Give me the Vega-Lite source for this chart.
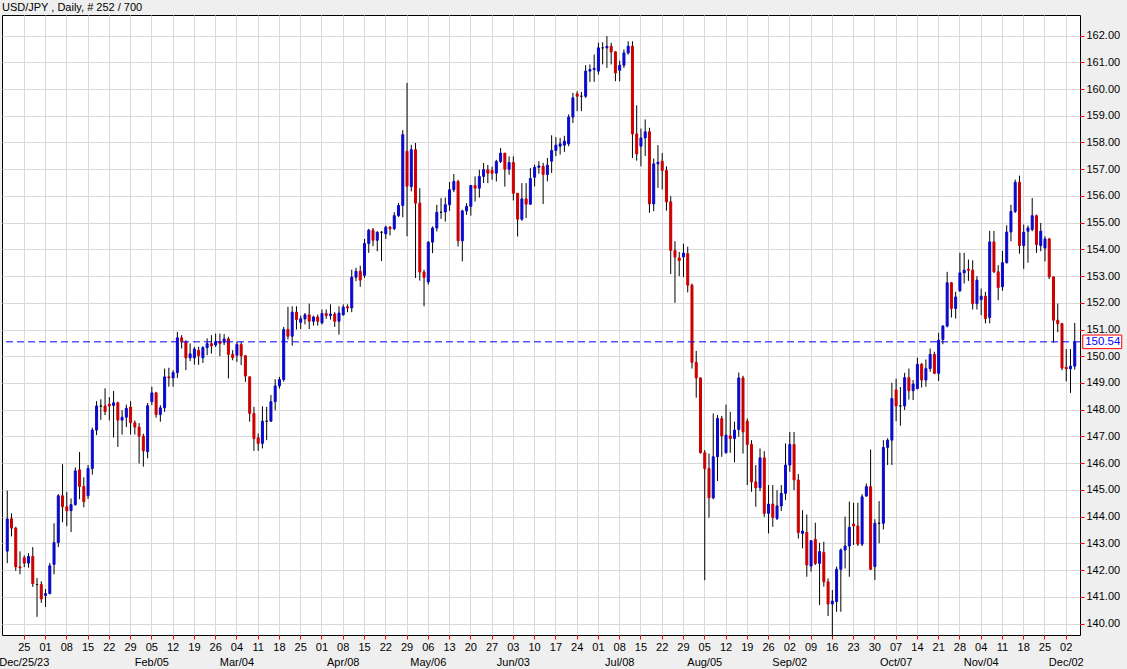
{
"$schema":"https://vega.github.io/schema/vega-lite/v6.json",
"width":1078,"height":620,
"autosize":{"type":"none"},
"padding":{"left":2,"top":15,"right":47,"bottom":34},
"background":"#efefef",
"config":{"view":{"stroke":"black","strokeWidth":1,"fill":"white"},"font":"Liberation Sans","axis":{"labelOverlap":false},"axisY":{"labelOverlap":false},"axisRight":{"labelOverlap":false},"axisQuantitative":{"labelOverlap":false}},
"title":{"text":"USD/JPY , Daily, # 252 / 700","anchor":"start","frame":"group","offset":2,"dy":11,"baseline":"bottom","fontSize":11,"fontWeight":"normal","color":"black","font":"Liberation Sans"},
"data":{"values":[
{"d":"2023-12-19","o":142.71,"h":144.97,"l":142.26,"c":143.91},
{"d":"2023-12-20","o":143.92,"h":144.12,"l":143.26,"c":143.57},
{"d":"2023-12-21","o":143.57,"h":143.62,"l":141.97,"c":142.12},
{"d":"2023-12-22","o":142.12,"h":142.70,"l":141.84,"c":142.08},
{"d":"2023-12-25","o":142.46,"h":142.55,"l":142.11,"c":142.26},
{"d":"2023-12-26","o":142.26,"h":142.63,"l":142.09,"c":142.51},
{"d":"2023-12-27","o":142.51,"h":142.86,"l":141.37,"c":141.49},
{"d":"2023-12-28","o":141.46,"h":141.70,"l":140.25,"c":141.46},
{"d":"2023-12-29","o":141.46,"h":141.58,"l":140.77,"c":140.92},
{"d":"2024-01-01","o":141.05,"h":141.29,"l":140.62,"c":141.12},
{"d":"2024-01-02","o":141.12,"h":142.26,"l":141.09,"c":142.16},
{"d":"2024-01-03","o":142.21,"h":143.75,"l":141.84,"c":143.03},
{"d":"2024-01-04","o":143.03,"h":144.84,"l":142.86,"c":144.78},
{"d":"2024-01-05","o":144.78,"h":145.96,"l":143.79,"c":144.37},
{"d":"2024-01-08","o":144.37,"h":144.93,"l":143.64,"c":144.22},
{"d":"2024-01-09","o":144.22,"h":144.68,"l":143.42,"c":144.45},
{"d":"2024-01-10","o":144.45,"h":145.84,"l":144.41,"c":145.71},
{"d":"2024-01-11","o":145.75,"h":146.42,"l":144.65,"c":145.13},
{"d":"2024-01-12","o":145.13,"h":145.47,"l":144.35,"c":144.56},
{"d":"2024-01-15","o":144.78,"h":145.93,"l":144.66,"c":145.80},
{"d":"2024-01-16","o":145.80,"h":147.33,"l":145.57,"c":147.24},
{"d":"2024-01-17","o":147.24,"h":148.32,"l":147.05,"c":148.14},
{"d":"2024-01-18","o":148.14,"h":148.39,"l":147.62,"c":148.14},
{"d":"2024-01-19","o":148.14,"h":148.80,"l":147.80,"c":147.93},
{"d":"2024-01-22","o":148.21,"h":148.47,"l":147.60,"c":148.14},
{"d":"2024-01-23","o":148.16,"h":148.70,"l":146.96,"c":148.26},
{"d":"2024-01-24","o":148.26,"h":148.30,"l":146.61,"c":147.61},
{"d":"2024-01-25","o":147.61,"h":147.98,"l":147.07,"c":147.72},
{"d":"2024-01-26","o":147.72,"h":148.19,"l":147.35,"c":148.05},
{"d":"2024-01-29","o":148.10,"h":148.32,"l":147.07,"c":147.51},
{"d":"2024-01-30","o":147.51,"h":147.60,"l":147.07,"c":147.35},
{"d":"2024-01-31","o":147.35,"h":147.50,"l":145.99,"c":147.01},
{"d":"2024-02-01","o":147.01,"h":147.10,"l":145.87,"c":146.46},
{"d":"2024-02-02","o":146.43,"h":148.25,"l":146.18,"c":148.15},
{"d":"2024-02-05","o":148.30,"h":148.86,"l":148.17,"c":148.63},
{"d":"2024-02-06","o":148.63,"h":148.67,"l":147.70,"c":147.82},
{"d":"2024-02-07","o":147.82,"h":148.17,"l":147.55,"c":148.07},
{"d":"2024-02-08","o":148.07,"h":149.54,"l":147.92,"c":149.23},
{"d":"2024-02-09","o":149.23,"h":149.57,"l":148.86,"c":149.19},
{"d":"2024-02-12","o":149.19,"h":149.48,"l":148.86,"c":149.39},
{"d":"2024-02-13","o":149.39,"h":150.91,"l":149.19,"c":150.69},
{"d":"2024-02-14","o":150.69,"h":150.79,"l":150.29,"c":150.54},
{"d":"2024-02-15","o":150.54,"h":150.60,"l":149.48,"c":149.94},
{"d":"2024-02-16","o":149.94,"h":150.48,"l":149.82,"c":150.09},
{"d":"2024-02-19","o":149.94,"h":150.35,"l":149.69,"c":150.27},
{"d":"2024-02-20","o":150.22,"h":150.35,"l":149.68,"c":150.02},
{"d":"2024-02-21","o":149.94,"h":150.38,"l":149.75,"c":150.32},
{"d":"2024-02-22","o":150.32,"h":150.67,"l":150.04,"c":150.47},
{"d":"2024-02-23","o":150.47,"h":150.79,"l":150.10,"c":150.39},
{"d":"2024-02-26","o":150.42,"h":150.85,"l":150.35,"c":150.55},
{"d":"2024-02-27","o":150.55,"h":150.85,"l":150.00,"c":150.48},
{"d":"2024-02-28","o":150.52,"h":150.83,"l":150.42,"c":150.65},
{"d":"2024-02-29","o":150.65,"h":150.73,"l":149.17,"c":150.07},
{"d":"2024-03-01","o":150.07,"h":150.23,"l":149.85,"c":149.95},
{"d":"2024-03-04","o":150.04,"h":150.54,"l":149.79,"c":150.44},
{"d":"2024-03-05","o":150.44,"h":150.54,"l":149.67,"c":150.02},
{"d":"2024-03-06","o":150.02,"h":150.04,"l":149.04,"c":149.26},
{"d":"2024-03-07","o":149.23,"h":149.25,"l":147.55,"c":147.86},
{"d":"2024-03-08","o":147.86,"h":148.11,"l":146.46,"c":146.92},
{"d":"2024-03-11","o":146.95,"h":147.11,"l":146.46,"c":146.74},
{"d":"2024-03-12","o":146.74,"h":148.13,"l":146.55,"c":147.57},
{"d":"2024-03-13","o":147.57,"h":148.11,"l":146.86,"c":147.57},
{"d":"2024-03-14","o":147.57,"h":148.55,"l":147.55,"c":148.30},
{"d":"2024-03-15","o":148.30,"h":149.14,"l":147.98,"c":148.89},
{"d":"2024-03-18","o":148.89,"h":149.23,"l":148.79,"c":149.13},
{"d":"2024-03-19","o":149.13,"h":151.10,"l":149.05,"c":151.00},
{"d":"2024-03-20","o":151.00,"h":151.85,"l":150.63,"c":150.75},
{"d":"2024-03-21","o":150.75,"h":151.87,"l":150.40,"c":151.65},
{"d":"2024-03-22","o":151.65,"h":151.87,"l":151.00,"c":151.37},
{"d":"2024-03-25","o":151.27,"h":151.52,"l":151.02,"c":151.40},
{"d":"2024-03-26","o":151.40,"h":151.62,"l":151.19,"c":151.55},
{"d":"2024-03-27","o":151.55,"h":151.97,"l":151.02,"c":151.31},
{"d":"2024-03-28","o":151.31,"h":151.52,"l":151.15,"c":151.47},
{"d":"2024-03-29","o":151.47,"h":151.56,"l":151.15,"c":151.31},
{"d":"2024-04-01","o":151.25,"h":151.75,"l":151.19,"c":151.60},
{"d":"2024-04-02","o":151.60,"h":151.75,"l":151.40,"c":151.52},
{"d":"2024-04-03","o":151.52,"h":151.94,"l":151.37,"c":151.58},
{"d":"2024-04-04","o":151.58,"h":151.65,"l":151.10,"c":151.31},
{"d":"2024-04-05","o":151.31,"h":151.87,"l":150.81,"c":151.62},
{"d":"2024-04-08","o":151.55,"h":151.94,"l":151.52,"c":151.84},
{"d":"2024-04-09","o":151.85,"h":151.94,"l":151.65,"c":151.81},
{"d":"2024-04-10","o":151.81,"h":153.24,"l":151.65,"c":152.96},
{"d":"2024-04-11","o":152.96,"h":153.31,"l":152.81,"c":153.18},
{"d":"2024-04-12","o":153.18,"h":153.39,"l":152.60,"c":152.85},
{"d":"2024-04-15","o":153.03,"h":154.39,"l":152.93,"c":154.22},
{"d":"2024-04-16","o":154.22,"h":154.77,"l":153.87,"c":154.72},
{"d":"2024-04-17","o":154.72,"h":154.80,"l":154.12,"c":154.34},
{"d":"2024-04-18","o":154.34,"h":154.68,"l":153.93,"c":154.64},
{"d":"2024-04-19","o":154.64,"h":154.68,"l":153.56,"c":154.64},
{"d":"2024-04-22","o":154.58,"h":154.89,"l":154.39,"c":154.83},
{"d":"2024-04-23","o":154.83,"h":154.87,"l":154.52,"c":154.77},
{"d":"2024-04-24","o":154.77,"h":155.39,"l":154.72,"c":155.26},
{"d":"2024-04-25","o":155.26,"h":155.74,"l":155.21,"c":155.64},
{"d":"2024-04-26","o":155.64,"h":158.46,"l":155.20,"c":158.29},
{"d":"2024-04-29","o":157.67,"h":160.23,"l":154.49,"c":156.36},
{"d":"2024-04-30","o":156.35,"h":157.91,"l":156.17,"c":157.73},
{"d":"2024-05-01","o":157.73,"h":157.98,"l":152.93,"c":155.73},
{"d":"2024-05-02","o":155.73,"h":156.29,"l":152.83,"c":153.15},
{"d":"2024-05-03","o":153.15,"h":153.24,"l":151.87,"c":152.95},
{"d":"2024-05-06","o":152.78,"h":154.30,"l":152.68,"c":154.27},
{"d":"2024-05-07","o":154.27,"h":154.86,"l":153.86,"c":154.80},
{"d":"2024-05-08","o":154.80,"h":155.67,"l":154.67,"c":155.39},
{"d":"2024-05-09","o":155.39,"h":155.92,"l":155.14,"c":155.39},
{"d":"2024-05-10","o":155.40,"h":155.94,"l":155.04,"c":155.67},
{"d":"2024-05-13","o":155.67,"h":156.52,"l":155.44,"c":156.23},
{"d":"2024-05-14","o":156.23,"h":156.82,"l":156.14,"c":156.54},
{"d":"2024-05-15","o":156.54,"h":156.60,"l":154.11,"c":154.32},
{"d":"2024-05-16","o":154.32,"h":155.48,"l":153.55,"c":155.44},
{"d":"2024-05-17","o":155.44,"h":155.73,"l":155.29,"c":155.61},
{"d":"2024-05-20","o":155.61,"h":156.41,"l":155.26,"c":156.39},
{"d":"2024-05-21","o":156.39,"h":156.73,"l":155.79,"c":156.29},
{"d":"2024-05-22","o":156.29,"h":156.98,"l":155.94,"c":156.73},
{"d":"2024-05-23","o":156.73,"h":157.23,"l":156.48,"c":156.98},
{"d":"2024-05-24","o":156.98,"h":157.16,"l":156.48,"c":156.85},
{"d":"2024-05-27","o":156.95,"h":157.10,"l":156.60,"c":156.85},
{"d":"2024-05-28","o":156.85,"h":157.35,"l":156.54,"c":157.29},
{"d":"2024-05-29","o":157.29,"h":157.79,"l":157.23,"c":157.60},
{"d":"2024-05-30","o":157.60,"h":157.60,"l":156.35,"c":157.00},
{"d":"2024-05-31","o":157.00,"h":157.48,"l":156.79,"c":157.25},
{"d":"2024-06-03","o":157.25,"h":157.48,"l":155.83,"c":156.10},
{"d":"2024-06-04","o":156.10,"h":156.10,"l":154.48,"c":155.13},
{"d":"2024-06-05","o":155.13,"h":156.48,"l":155.07,"c":155.89},
{"d":"2024-06-06","o":155.89,"h":156.48,"l":155.17,"c":155.69},
{"d":"2024-06-07","o":155.69,"h":157.04,"l":155.67,"c":156.65},
{"d":"2024-06-10","o":156.70,"h":157.17,"l":156.36,"c":157.07},
{"d":"2024-06-11","o":157.07,"h":157.30,"l":156.83,"c":157.12},
{"d":"2024-06-12","o":157.11,"h":157.24,"l":155.70,"c":156.80},
{"d":"2024-06-13","o":156.80,"h":157.42,"l":156.55,"c":157.15},
{"d":"2024-06-14","o":157.30,"h":158.27,"l":156.86,"c":157.70},
{"d":"2024-06-17","o":157.70,"h":158.20,"l":157.49,"c":157.90},
{"d":"2024-06-18","o":157.86,"h":158.17,"l":157.55,"c":157.95},
{"d":"2024-06-19","o":157.90,"h":158.25,"l":157.65,"c":158.05},
{"d":"2024-06-20","o":157.95,"h":159.05,"l":157.86,"c":158.95},
{"d":"2024-06-21","o":158.95,"h":159.86,"l":158.73,"c":159.67},
{"d":"2024-06-24","o":159.82,"h":159.92,"l":159.17,"c":159.73},
{"d":"2024-06-25","o":159.73,"h":159.89,"l":159.17,"c":159.73},
{"d":"2024-06-26","o":159.73,"h":160.89,"l":159.67,"c":160.67},
{"d":"2024-06-27","o":160.67,"h":160.92,"l":160.27,"c":160.73},
{"d":"2024-06-28","o":160.73,"h":161.29,"l":160.27,"c":160.77},
{"d":"2024-07-01","o":160.67,"h":161.73,"l":160.54,"c":161.54},
{"d":"2024-07-02","o":161.54,"h":161.75,"l":160.92,"c":161.54},
{"d":"2024-07-03","o":161.54,"h":161.98,"l":160.79,"c":161.60},
{"d":"2024-07-04","o":161.60,"h":161.73,"l":160.92,"c":161.39},
{"d":"2024-07-05","o":161.39,"h":161.41,"l":160.29,"c":160.60},
{"d":"2024-07-08","o":160.70,"h":161.06,"l":160.29,"c":160.89},
{"d":"2024-07-09","o":160.89,"h":161.48,"l":160.79,"c":161.35},
{"d":"2024-07-10","o":161.35,"h":161.79,"l":161.29,"c":161.60},
{"d":"2024-07-11","o":161.60,"h":161.79,"l":157.42,"c":158.32},
{"d":"2024-07-12","o":158.32,"h":159.39,"l":157.32,"c":157.57},
{"d":"2024-07-15","o":157.86,"h":158.52,"l":157.11,"c":158.17},
{"d":"2024-07-16","o":158.17,"h":158.86,"l":157.49,"c":158.40},
{"d":"2024-07-17","o":158.40,"h":158.55,"l":155.37,"c":155.70},
{"d":"2024-07-18","o":155.70,"h":157.40,"l":155.43,"c":157.20},
{"d":"2024-07-19","o":157.20,"h":157.90,"l":156.30,"c":157.26},
{"d":"2024-07-22","o":157.30,"h":157.61,"l":156.24,"c":156.95},
{"d":"2024-07-23","o":156.95,"h":157.11,"l":155.45,"c":155.78},
{"d":"2024-07-24","o":155.78,"h":155.99,"l":153.08,"c":153.96},
{"d":"2024-07-25","o":153.96,"h":154.31,"l":152.00,"c":153.71},
{"d":"2024-07-26","o":153.68,"h":153.90,"l":153.00,"c":153.58},
{"d":"2024-07-29","o":153.72,"h":154.21,"l":152.97,"c":153.86},
{"d":"2024-07-30","o":153.84,"h":154.10,"l":152.39,"c":152.66},
{"d":"2024-07-31","o":152.66,"h":152.72,"l":149.54,"c":149.77},
{"d":"2024-08-01","o":149.77,"h":150.20,"l":148.45,"c":149.19},
{"d":"2024-08-02","o":149.19,"h":149.20,"l":146.36,"c":146.39},
{"d":"2024-08-05","o":146.39,"h":146.49,"l":141.62,"c":145.80},
{"d":"2024-08-06","o":145.80,"h":146.36,"l":143.96,"c":144.70},
{"d":"2024-08-07","o":144.70,"h":147.86,"l":144.65,"c":146.24},
{"d":"2024-08-08","o":146.24,"h":147.80,"l":145.33,"c":147.67},
{"d":"2024-08-09","o":147.67,"h":147.77,"l":146.24,"c":147.02},
{"d":"2024-08-12","o":146.39,"h":148.19,"l":146.36,"c":147.05},
{"d":"2024-08-13","o":147.02,"h":147.92,"l":146.39,"c":146.92},
{"d":"2024-08-14","o":146.92,"h":147.55,"l":146.03,"c":147.24},
{"d":"2024-08-15","o":147.26,"h":149.39,"l":146.99,"c":149.19},
{"d":"2024-08-16","o":149.19,"h":149.27,"l":146.36,"c":147.17},
{"d":"2024-08-19","o":147.57,"h":147.67,"l":145.18,"c":146.70},
{"d":"2024-08-20","o":146.70,"h":146.86,"l":144.93,"c":145.30},
{"d":"2024-08-21","o":145.30,"h":145.93,"l":144.37,"c":145.08},
{"d":"2024-08-22","o":145.08,"h":146.55,"l":144.95,"c":146.20},
{"d":"2024-08-23","o":146.20,"h":146.45,"l":143.99,"c":144.12},
{"d":"2024-08-26","o":144.12,"h":145.18,"l":143.37,"c":144.47},
{"d":"2024-08-27","o":144.47,"h":145.18,"l":143.62,"c":143.97},
{"d":"2024-08-28","o":143.93,"h":144.99,"l":143.87,"c":144.40},
{"d":"2024-08-29","o":144.40,"h":145.18,"l":144.21,"c":144.87},
{"d":"2024-08-30","o":144.87,"h":146.74,"l":144.62,"c":145.93},
{"d":"2024-09-02","o":145.93,"h":147.17,"l":145.68,"c":146.70},
{"d":"2024-09-03","o":146.70,"h":147.17,"l":144.99,"c":145.37},
{"d":"2024-09-04","o":145.37,"h":145.59,"l":143.18,"c":143.40},
{"d":"2024-09-05","o":143.37,"h":144.24,"l":142.81,"c":143.46},
{"d":"2024-09-06","o":143.41,"h":144.08,"l":141.75,"c":142.19},
{"d":"2024-09-09","o":142.15,"h":143.12,"l":141.94,"c":143.10},
{"d":"2024-09-10","o":143.15,"h":143.77,"l":142.19,"c":142.25},
{"d":"2024-09-11","o":142.25,"h":143.02,"l":140.69,"c":142.69},
{"d":"2024-09-12","o":142.66,"h":143.06,"l":141.38,"c":141.56},
{"d":"2024-09-13","o":141.56,"h":141.69,"l":140.28,"c":140.73},
{"d":"2024-09-16","o":140.73,"h":141.25,"l":139.51,"c":140.84},
{"d":"2024-09-17","o":140.82,"h":142.13,"l":140.44,"c":142.03},
{"d":"2024-09-18","o":142.03,"h":142.81,"l":140.44,"c":142.75},
{"d":"2024-09-19","o":142.75,"h":144.00,"l":142.06,"c":142.90},
{"d":"2024-09-20","o":142.90,"h":144.56,"l":141.75,"c":143.60},
{"d":"2024-09-23","o":143.72,"h":144.52,"l":142.94,"c":143.65},
{"d":"2024-09-24","o":143.65,"h":144.52,"l":142.90,"c":142.97},
{"d":"2024-09-25","o":142.97,"h":144.84,"l":142.90,"c":144.74},
{"d":"2024-09-26","o":144.77,"h":145.24,"l":144.74,"c":145.12},
{"d":"2024-09-27","o":145.12,"h":146.51,"l":142.00,"c":142.03},
{"d":"2024-09-30","o":142.13,"h":143.90,"l":141.63,"c":143.75},
{"d":"2024-10-01","o":143.75,"h":144.58,"l":143.00,"c":143.75},
{"d":"2024-10-02","o":143.75,"h":146.86,"l":143.52,"c":146.59},
{"d":"2024-10-03","o":146.59,"h":146.93,"l":145.93,"c":146.86},
{"d":"2024-10-04","o":146.86,"h":149.01,"l":145.93,"c":148.42},
{"d":"2024-10-07","o":148.74,"h":149.16,"l":147.57,"c":148.14},
{"d":"2024-10-08","o":148.14,"h":148.85,"l":147.40,"c":148.14},
{"d":"2024-10-09","o":148.14,"h":149.38,"l":147.99,"c":149.20},
{"d":"2024-10-10","o":149.20,"h":149.54,"l":148.38,"c":148.71},
{"d":"2024-10-11","o":148.71,"h":149.11,"l":148.36,"c":148.96},
{"d":"2024-10-14","o":148.79,"h":149.95,"l":148.76,"c":149.70},
{"d":"2024-10-15","o":149.70,"h":149.75,"l":148.83,"c":149.11},
{"d":"2024-10-16","o":149.11,"h":149.88,"l":148.86,"c":149.54},
{"d":"2024-10-17","o":149.54,"h":150.29,"l":149.42,"c":150.07},
{"d":"2024-10-18","o":150.07,"h":150.17,"l":149.33,"c":149.36},
{"d":"2024-10-21","o":149.36,"h":150.88,"l":149.08,"c":150.60},
{"d":"2024-10-22","o":150.63,"h":151.16,"l":150.45,"c":151.13},
{"d":"2024-10-23","o":151.13,"h":153.16,"l":151.08,"c":152.75},
{"d":"2024-10-24","o":152.75,"h":152.78,"l":151.45,"c":151.79},
{"d":"2024-10-25","o":151.79,"h":152.41,"l":151.41,"c":152.22},
{"d":"2024-10-28","o":152.45,"h":153.87,"l":152.41,"c":153.12},
{"d":"2024-10-29","o":153.12,"h":153.87,"l":152.72,"c":153.22},
{"d":"2024-10-30","o":153.26,"h":153.62,"l":152.82,"c":153.22},
{"d":"2024-10-31","o":153.22,"h":153.59,"l":151.75,"c":151.97},
{"d":"2024-11-01","o":151.97,"h":153.00,"l":151.75,"c":152.85},
{"d":"2024-11-04","o":152.12,"h":152.53,"l":151.54,"c":152.25},
{"d":"2024-11-05","o":152.25,"h":152.41,"l":151.23,"c":151.41},
{"d":"2024-11-06","o":151.45,"h":154.69,"l":151.23,"c":154.28},
{"d":"2024-11-07","o":154.28,"h":154.69,"l":153.12,"c":153.16},
{"d":"2024-11-08","o":153.16,"h":153.41,"l":152.10,"c":152.57},
{"d":"2024-11-11","o":152.60,"h":153.94,"l":152.45,"c":153.50},
{"d":"2024-11-12","o":153.50,"h":154.90,"l":153.47,"c":154.65},
{"d":"2024-11-13","o":154.65,"h":155.67,"l":154.30,"c":155.42},
{"d":"2024-11-14","o":155.42,"h":156.61,"l":155.36,"c":156.51},
{"d":"2024-11-15","o":156.51,"h":156.76,"l":153.84,"c":154.14},
{"d":"2024-11-18","o":154.14,"h":154.93,"l":153.27,"c":154.64},
{"d":"2024-11-19","o":154.68,"h":154.89,"l":153.50,"c":154.80},
{"d":"2024-11-20","o":154.74,"h":155.92,"l":154.68,"c":155.26},
{"d":"2024-11-21","o":155.26,"h":155.30,"l":153.87,"c":154.18},
{"d":"2024-11-22","o":154.14,"h":154.99,"l":153.93,"c":154.68},
{"d":"2024-11-25","o":154.05,"h":154.49,"l":153.55,"c":154.39},
{"d":"2024-11-26","o":154.39,"h":154.43,"l":152.89,"c":152.97},
{"d":"2024-11-27","o":152.97,"h":152.97,"l":150.50,"c":151.35},
{"d":"2024-11-28","o":151.35,"h":151.97,"l":150.90,"c":151.22},
{"d":"2024-11-29","o":151.22,"h":151.25,"l":149.48,"c":149.56},
{"d":"2024-12-02","o":149.59,"h":150.27,"l":149.06,"c":149.53},
{"d":"2024-12-03","o":149.53,"h":150.27,"l":148.63,"c":149.63},
{"d":"2024-12-04","o":149.63,"h":151.25,"l":149.50,"c":150.54}
]},
"layer":[
{"mark":{"type":"rule","color":"black","strokeWidth":1},
 "encoding":{
  "x":{"field":"d","type":"ordinal","scale":{"paddingInner":0.53,"paddingOuter":1.21,"align":0.5},
   "axis":{"values":["2023-12-25","2024-01-01","2024-01-08","2024-01-15","2024-01-22","2024-01-29","2024-02-05","2024-02-12","2024-02-19","2024-02-26","2024-03-04","2024-03-11","2024-03-18","2024-03-25","2024-04-01","2024-04-08","2024-04-15","2024-04-22","2024-04-29","2024-05-06","2024-05-13","2024-05-20","2024-05-27","2024-06-03","2024-06-10","2024-06-17","2024-06-24","2024-07-01","2024-07-08","2024-07-15","2024-07-22","2024-07-29","2024-08-05","2024-08-12","2024-08-19","2024-08-26","2024-09-02","2024-09-09","2024-09-16","2024-09-23","2024-09-30","2024-10-07","2024-10-14","2024-10-21","2024-10-28","2024-11-04","2024-11-11","2024-11-18","2024-11-25","2024-12-02"],
    "labelExpr":"datum.value == '2023-12-25' ? ['25', 'Dec/25/23'] : ((toNumber(slice(datum.value, 8)) >= 2 && toNumber(slice(datum.value, 8)) <= 8 && slice(datum.value, 5, 7) != '01') ? [slice(datum.value, 8), ['Jan','Feb','Mar','Apr','May','Jun','Jul','Aug','Sep','Oct','Nov','Dec'][toNumber(slice(datum.value, 5, 7)) - 1] + '/' + slice(datum.value, 8)] : slice(datum.value, 8))",
    "bandPosition":0.5,"title":null,"domain":false,"grid":true,"gridColor":"#d9d9d9","gridWidth":1,
    "ticks":true,"tickColor":"#ff0000","tickSize":4,"labelAngle":0,"labelFontSize":11,"labelColor":"black","labelPadding":2,"labelLineHeight":15,"labelOverlap":false,"labelBound":false,"labelFlush":false,"labelFont":"Liberation Sans"}},
  "y":{"field":"l","type":"quantitative","scale":{"domain":[139.57,162.77],"nice":false,"zero":false},
   "axis":{"orient":"right","values":[140,141,142,143,144,145,146,147,148,149,150,151,152,153,154,155,156,157,158,159,160,161,162],"format":".2f","title":null,"domain":false,"grid":true,"gridColor":"#d9d9d9","gridWidth":1,"ticks":true,"tickColor":"#ff0000","tickSize":4,"labelFontSize":11,"labelColor":"black","labelPadding":2,"labelOverlap":false,"labelBound":false,"labelFlush":false,"labelFont":"Liberation Sans"}},
  "y2":{"field":"h"}}},
{"mark":{"type":"bar","strokeWidth":1},
 "encoding":{
  "x":{"field":"d","type":"ordinal"},
  "y":{"field":"o","type":"quantitative","axis":{"orient":"right","values":[140,141,142,143,144,145,146,147,148,149,150,151,152,153,154,155,156,157,158,159,160,161,162],"format":".2f","title":null,"labelOverlap":false}},
  "y2":{"field":"c"},
  "fill":{"condition":[{"test":"datum.c > datum.o","value":"#0a0acb"},{"test":"datum.c < datum.o","value":"#cc0000"}],"value":"black"},
  "stroke":{"condition":[{"test":"datum.c > datum.o","value":"#0a0acb"},{"test":"datum.c < datum.o","value":"#cc0000"}],"value":"black"}}},
{"data":{"values":[{"p":150.54}]},
 "mark":{"type":"rule","color":"#0000ff","strokeWidth":1,"strokeDash":[7,4]},
 "encoding":{"y":{"field":"p","type":"quantitative","axis":{"orient":"right","values":[140,141,142,143,144,145,146,147,148,149,150,151,152,153,154,155,156,157,158,159,160,161,162],"format":".2f","title":null,"labelOverlap":false}}}},
{"data":{"values":[{"d":"2024-12-04","p":150.54}]},
 "mark":{"type":"point","shape":"M0.8,-0.68H4.7V0.68H0.8Z","size":400,"filled":true,"fill":"white","stroke":"#ff0000","strokeWidth":1,"opacity":1},
 "encoding":{"x":{"field":"d","type":"ordinal"},"y":{"field":"p","type":"quantitative","axis":{"orient":"right","values":[140,141,142,143,144,145,146,147,148,149,150,151,152,153,154,155,156,157,158,159,160,161,162],"format":".2f","title":null,"labelOverlap":false}}}},
{"data":{"values":[{"d":"2024-12-04","p":150.54}]},
 "mark":{"type":"text","dx":28,"align":"center","baseline":"middle","color":"#0000ff","fontSize":11.5,"font":"Liberation Sans"},
 "encoding":{"x":{"field":"d","type":"ordinal"},"y":{"field":"p","type":"quantitative","axis":{"orient":"right","values":[140,141,142,143,144,145,146,147,148,149,150,151,152,153,154,155,156,157,158,159,160,161,162],"format":".2f","title":null,"labelOverlap":false}},"text":{"field":"p","type":"quantitative","format":".2f"}}}
]
}
